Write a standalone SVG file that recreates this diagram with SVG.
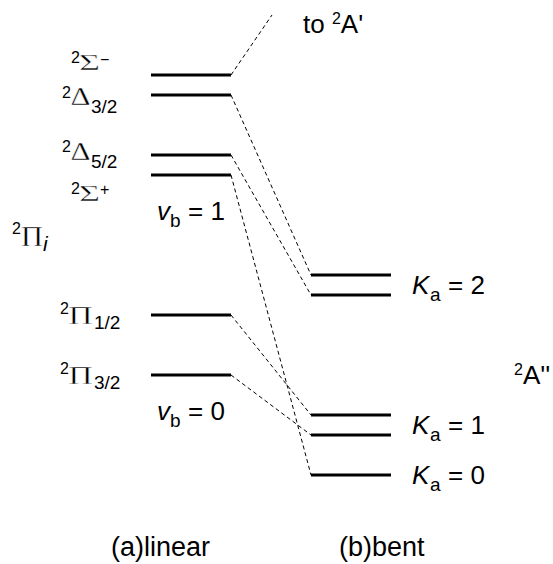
<svg xmlns="http://www.w3.org/2000/svg" width="553" height="564" viewBox="0 0 553 564">
<style>
.lvl{stroke:#000;stroke-width:3;fill:none}
.dash{stroke:#000;stroke-width:1;stroke-dasharray:4 3;fill:none}
text{font-family:"Liberation Sans",Arial,sans-serif;fill:#000}
.m{font-size:26px}
.cap{font-size:27px}
.sup{font-size:16px}
.sub{font-size:19px}
.sb{font-size:19px}
.g{font-family:"Liberation Serif","Times New Roman",serif;stroke:#fff;stroke-width:0.4}
.it{font-style:italic}
</style>
<rect width="553" height="564" fill="#fff"/>
<g id="connectors">
<path class="dash" d="M231,75 L272,15"/>
<path class="dash" d="M231,95 L311,275"/>
<path class="dash" d="M231,155 L311,295"/>
<path class="dash" d="M231,175 L311,475"/>
<path class="dash" d="M231,315 L311,415"/>
<path class="dash" d="M231,375 L311,435"/>
</g>
<g id="sigma-minus">
<line class="lvl" x1="151" y1="75" x2="231" y2="75"/>
<text class="sup" x="71" y="63">2</text>
<text class="g" x="79" y="70" font-size="23" textLength="21" lengthAdjust="spacingAndGlyphs">Σ</text>
<text class="sup" x="100" y="65">−</text>
</g>
<g id="delta-3-2">
<line class="lvl" x1="151" y1="95" x2="231" y2="95"/>
<text class="sup" x="62" y="98">2</text>
<text class="g" x="70.5" y="105" font-size="25" textLength="20" lengthAdjust="spacingAndGlyphs">Δ</text>
<text class="sub" x="91" y="113">3/2</text>
</g>
<g id="delta-5-2">
<line class="lvl" x1="151" y1="155" x2="231" y2="155"/>
<text class="sup" x="62" y="152">2</text>
<text class="g" x="70.5" y="160" font-size="25" textLength="20" lengthAdjust="spacingAndGlyphs">Δ</text>
<text class="sub" x="91" y="168">5/2</text>
</g>
<g id="sigma-plus">
<line class="lvl" x1="151" y1="175" x2="231" y2="175"/>
<text class="sup" x="71" y="194">2</text>
<text class="g" x="79" y="201" font-size="23" textLength="21" lengthAdjust="spacingAndGlyphs">Σ</text>
<text class="sup" x="100" y="195">+</text>
</g>
<g id="vb1">
<text class="m it" x="157" y="220">v</text>
<text class="sb" x="170" y="227">b</text>
<text class="m" x="188" y="220">= 1</text>
</g>
<g id="pi-i">
<text class="sup" x="12" y="234">2</text>
<text class="g" x="21" y="246" font-size="29" textLength="22" lengthAdjust="spacingAndGlyphs">Π</text>
<text class="it" x="43" y="251" font-size="21">i</text>
</g>
<g id="pi-1-2">
<line class="lvl" x1="151" y1="315" x2="231" y2="315"/>
<text class="sup" x="60" y="314">2</text>
<text class="g" x="68.5" y="324" font-size="26" textLength="24" lengthAdjust="spacingAndGlyphs">Π</text>
<text class="sub" x="94" y="329">1/2</text>
</g>
<g id="pi-3-2">
<line class="lvl" x1="151" y1="375" x2="231" y2="375"/>
<text class="sup" x="60" y="374">2</text>
<text class="g" x="68.5" y="384" font-size="26" textLength="24" lengthAdjust="spacingAndGlyphs">Π</text>
<text class="sub" x="94" y="389">3/2</text>
</g>
<g id="vb0">
<text class="m it" x="157" y="420">v</text>
<text class="sb" x="170" y="427">b</text>
<text class="m" x="188" y="420">= 0</text>
</g>
<g id="to-2A-prime">
<text class="m" x="303" y="33">to <tspan class="sup" dy="-9">2</tspan><tspan dy="9">A'</tspan></text>
</g>
<g id="ka2">
<line class="lvl" x1="311" y1="275" x2="391" y2="275"/>
<line class="lvl" x1="311" y1="295" x2="391" y2="295"/>
<text class="m it" x="412" y="294">K</text>
<text class="sb" x="430" y="301">a</text>
<text class="m" x="448" y="294">= 2</text>
</g>
<g id="A2-double-prime">
<text class="m" x="514" y="384"><tspan class="sup" dy="-9">2</tspan><tspan dy="9">A''</tspan></text>
</g>
<g id="ka1">
<line class="lvl" x1="311" y1="415" x2="391" y2="415"/>
<line class="lvl" x1="311" y1="435" x2="391" y2="435"/>
<text class="m it" x="412" y="434">K</text>
<text class="sb" x="430" y="441">a</text>
<text class="m" x="448" y="434">= 1</text>
</g>
<g id="ka0">
<line class="lvl" x1="311" y1="475" x2="391" y2="475"/>
<text class="m it" x="412" y="484">K</text>
<text class="sb" x="430" y="491">a</text>
<text class="m" x="448" y="484">= 0</text>
</g>
<g id="captions">
<text class="cap" x="111" y="556">(a)linear</text>
<text class="cap" x="339" y="556">(b)bent</text>
</g>
</svg>
